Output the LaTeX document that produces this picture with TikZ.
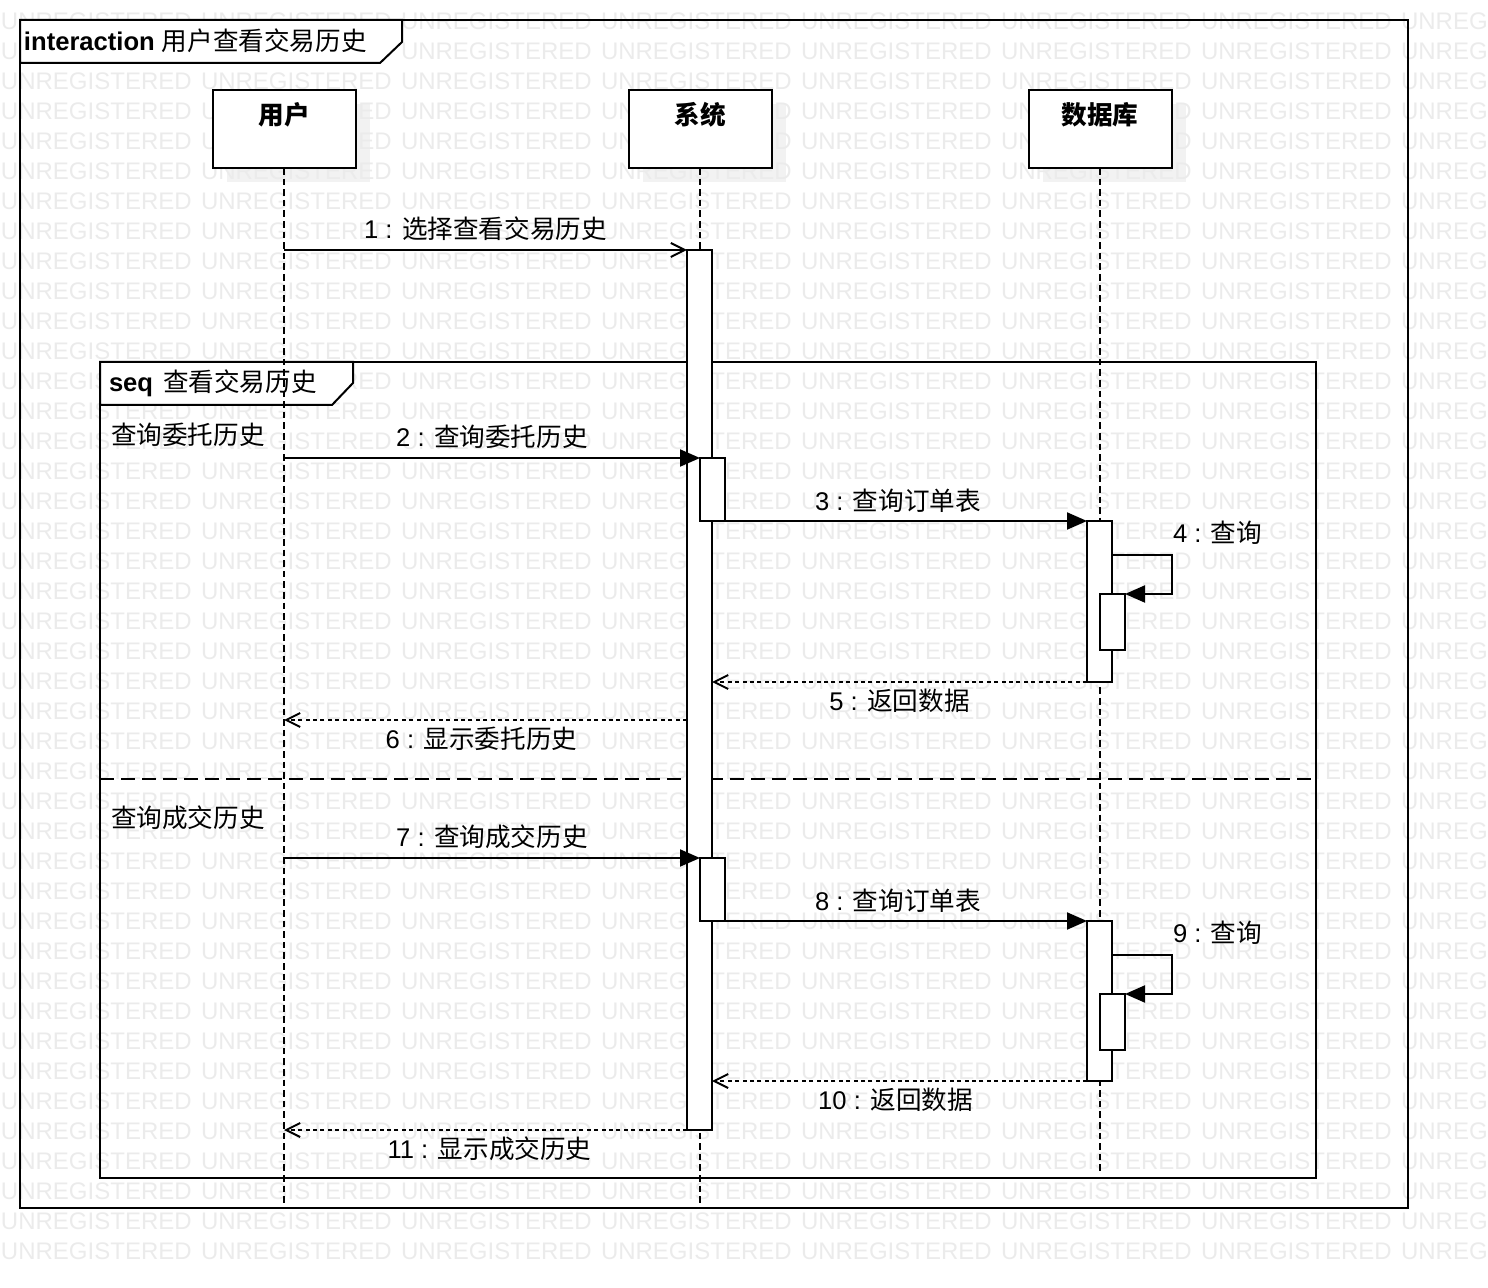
\documentclass[tikz,border=0pt]{standalone}
\usepackage{fontspec}
\setmainfont{Liberation Sans}
\newfontfamily\cjk{Noto Sans CJK SC}
\usetikzlibrary{arrows.meta,positioning}

\begin{document}
\begin{tikzpicture}[x=0.5pt,y=-0.5pt,line width=1pt]
		\tikzstyle{watermark}=[anchor=west,inner sep=0pt,text=black!8,font=\fontsize{12}{14}\selectfont]
		\tikzstyle{head}=[draw,fill=white,minimum width=71.5pt,minimum height=39pt,inner sep=0pt,outer sep=0pt]
		\tikzstyle{head shadow}=[fill=black!5,minimum width=71.5pt,minimum height=39pt,inner sep=0pt]
		\tikzstyle{head text}=[inner sep=0pt,font=\fontsize{12.8}{15}\selectfont\cjk\bfseries]
		\tikzstyle{bar}=[draw,fill=white,minimum width=12.5pt,inner sep=0pt,outer sep=0pt]
		\tikzstyle{lifeline}=[dash pattern=on 3.3pt off 2pt]
		\tikzstyle{call}=[-{Triangle[length=10pt,width=8.5pt]}]
		\tikzstyle{open call}=[-{Straight Barb[length=7pt,width=7pt]}]
		\tikzstyle{reply}=[dash pattern=on 2pt off 1.7pt,-{Straight Barb[length=7pt,width=7pt]}]
		\tikzstyle{msg text}=[inner sep=0pt,font=\fontsize{12.8}{15}\selectfont]

		\useasboundingbox (0,0) rectangle (1488,1288);

			% Shadows behind the lifeline heads
		\foreach \x in {284,700,1100}
		\node[head shadow] at (\x+14,143) {};

			% Background watermark
		\foreach \r in {0,...,41}
		\foreach \c in {0,...,7}
		\node[watermark] at (\c*200,21+\r*30) {UNREGISTERED};

			% Draw the interaction frame
		\draw (20,20) rectangle (1408,1208);
		\draw[fill=white] (20,20) -- (402,20) -- (402,42) -- (380,63) -- (20,63) -- cycle;
		\node[msg text,anchor=west] (title) at (23,41) {\textbf{interaction} {\cjk 用户查看交易历史}};

			% Draw the seq fragment
		\draw (100,362) rectangle (1316,1178);
		\draw[fill=white] (100,362) -- (353,362) -- (353,383) -- (332,405) -- (100,405) -- cycle;
		\node[msg text,anchor=west] (seq) at (108,383) {\textbf{seq}\hspace{5pt}{\cjk 查看交易历史}};
		\node[msg text,anchor=west] (guard1) at (110,435) {\cjk 查询委托历史};
		\node[msg text,anchor=west] (guard2) at (110,818) {\cjk 查询成交历史};
		\draw[dash pattern=on 7pt off 3.5pt] (100,779) -- (1316,779);

			% Draw the lifelines
		\coordinate (user-end) at (284,1205);
		\coordinate (sys-end) at (700,1205);
		\coordinate (db-end) at (1100,1172);
		\foreach \name/\x/\txt in {user/284/用户,sys/700/系统,db/1100/数据库}
		{
		\node[head] (\name) at (\x,129) {};
		\draw[lifeline] (\name.south) -- (\name-end);
		\node[head text] at ([yshift=-12.5pt]\name.north) {\txt};
		}

			% Activation bars
		\node[bar,minimum height=440pt] (sysact) at (699.5,690) {};
		\node[bar,minimum height=31.5pt] (sysq1) at (712.5,489.5) {};
		\node[bar,minimum height=31.5pt] (sysq2) at (712.5,889.5) {};
		\node[bar,minimum height=80.5pt] (dbact1) at (1099.5,601.5) {};
		\node[bar,minimum height=80pt] (dbact2) at (1099.5,1001) {};
		\node[bar,minimum height=28pt] (dbq1) at (1112.5,622) {};
		\node[bar,minimum height=28pt] (dbq2) at (1112.5,1022) {};

			% Points on the user lifeline
		\coordinate (u1) at (284,250);
		\coordinate (u2) at (284,458);
		\coordinate (u6) at (284,720);
		\coordinate (u7) at (284,858);
		\coordinate (u11) at (284,1130);
		\coordinate (s4) at (1172,555);
		\coordinate (s9) at (1172,955);

			% First operand
		\draw[open call] (u1) -- node[msg text,midway,yshift=10.5pt] {1 : {\cjk 选择查看交易历史}} (sysact.north west);
		\draw[call] (u2) -- node[msg text,midway,yshift=10.5pt] {2 : {\cjk 查询委托历史}} (sysq1.north west);
		\draw[call] (sysq1.south east) -- node[msg text,midway,yshift=10pt,xshift=-4pt] {3 : {\cjk 查询订单表}} (dbact1.north west);
		\draw[call] (dbact1.east |- s4) -- (s4) node[msg text,anchor=west,yshift=11pt] {4 : {\cjk 查询}} |- (dbq1.north east);
		\draw[reply] (dbact1.south west) -- node[msg text,midway,yshift=-9.5pt] {5 : {\cjk 返回数据}} (sysact.east |- dbact1.south west);
		\draw[reply] (sysact.west |- u6) -- node[msg text,midway,yshift=-9.5pt,xshift=-2pt] {6 : {\cjk 显示委托历史}} (u6);

			% Second operand
		\draw[call] (u7) -- node[msg text,midway,yshift=10.5pt] {7 : {\cjk 查询成交历史}} (sysq2.north west);
		\draw[call] (sysq2.south east) -- node[msg text,midway,yshift=10pt,xshift=-4pt] {8 : {\cjk 查询订单表}} (dbact2.north west);
		\draw[call] (dbact2.east |- s9) -- (s9) node[msg text,anchor=west,yshift=11pt] {9 : {\cjk 查询}} |- (dbq2.north east);
		\draw[reply] (dbact2.south west) -- node[msg text,midway,yshift=-9.5pt,xshift=-2pt] {10 : {\cjk 返回数据}} (sysact.east |- dbact2.south west);
		\draw[reply] (sysact.south west) -- node[msg text,midway,yshift=-9.5pt,xshift=2pt] {11 : {\cjk 显示成交历史}} (u11);
\end{tikzpicture}
\end{document}
